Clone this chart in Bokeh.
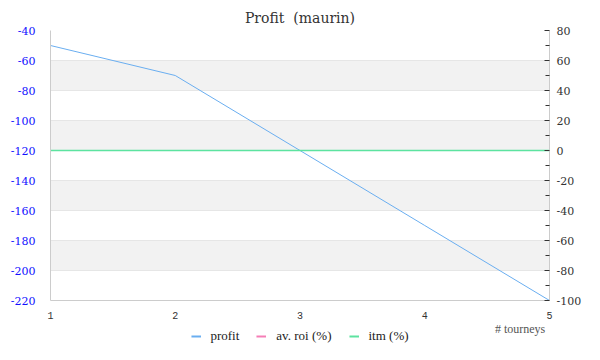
from bokeh.plotting import figure
from bokeh.layouts import column
from bokeh.models import (Range1d, LinearAxis, FixedTicker, Legend, LegendItem)
from bokeh.core.properties import value
from bokeh.embed import file_html
from bokeh.resources import INLINE

tourneys = [1, 2, 3, 4, 5]
profit = [-50, -70, -120, -170, -220]
av_roi = [0, 0, 0, 0, 0]
itm = [0, 0, 0, 0, 0]
left_ticks = list(range(-220, -39, 20))
right_ticks = list(range(-100, 81, 20))
right_minor = list(range(-90, 80, 20))
x_ticks = [1, 2, 3, 4, 5]
x_title = "# tourneys"

SERIF = "Liberation Serif"
C_PROFIT, C_ROI, C_ITM = "#6aaef0", "#f57eb6", "#5de3a0"

p = figure(width=584, height=321, output_backend="svg", toolbar_location=None,
           x_range=Range1d(1, 5), y_range=Range1d(-220, -40),
           min_border_left=50, min_border_right=34, min_border_top=30,
           min_border_bottom=18)
p.outline_line_color = None
p.background_fill_color = "white"

p.title.text = "Profit\u00a0 (maurin)"
p.title.align = "center"
p.title.text_font = "DejaVu Serif"
p.title.text_font_size = "14px"
p.title.text_font_style = "normal"
p.title.text_color = "#333333"
p.title.standoff = 10

p.extra_y_ranges = {"right": Range1d(-100, 80)}

# left axis
la = p.yaxis[0]
la.ticker = FixedTicker(ticks=left_ticks)
la.major_label_overrides = {t: str(t) for t in left_ticks}
la.major_tick_line_color = None
la.minor_tick_line_color = None
la.axis_line_color = "#cccccc"
la.major_label_text_color = "#1111ff"
la.major_label_text_font = "DejaVu Serif"
la.major_label_text_font_size = "11px"
la.major_label_standoff = 9

# bottom axis
xa = p.xaxis[0]
xa.ticker = FixedTicker(ticks=x_ticks)
xa.major_tick_line_color = None
xa.minor_tick_line_color = None
xa.axis_line_color = "#cccccc"
xa.major_label_text_color = "#333333"
xa.major_label_text_font = "Liberation Mono"
xa.major_label_text_font_size = "10px"
xa.major_label_standoff = 5

# right axis
ra = LinearAxis(y_range_name="right",
                ticker=FixedTicker(ticks=right_ticks, minor_ticks=right_minor))
ra.major_label_overrides = {t: str(t) for t in right_ticks}
ra.axis_line_color = "#cccccc"
ra.major_tick_out = 0
ra.major_tick_in = 5
ra.minor_tick_out = 0
ra.minor_tick_in = 4
ra.major_tick_line_color = "#333333"
ra.minor_tick_line_color = "#333333"
ra.major_label_text_color = "#333333"
ra.major_label_text_font = "DejaVu Serif"
ra.major_label_text_font_size = "11px"
ra.major_label_standoff = 7
p.add_layout(ra, "right")

p.xgrid.grid_line_color = None
p.ygrid.ticker = FixedTicker(ticks=left_ticks)
p.ygrid.grid_line_color = "#e6e6e6"
p.ygrid.band_fill_color = "#f2f2f2"
p.ygrid.band_fill_alpha = 1.0

p.line(tourneys, profit, line_color=C_PROFIT, line_width=1)
p.line(tourneys, av_roi, line_color=C_ROI, line_width=1, y_range_name="right")
p.line(tourneys, itm, line_color=C_ITM, line_width=1.5, y_range_name="right")

# footer strip: x-axis title and legend (lines fall outside the view)
f = figure(width=584, height=23, output_backend="svg", toolbar_location=None,
           x_range=Range1d(0, 584), y_range=Range1d(1000, 1023),
           x_axis_type=None, y_axis_type=None, min_border=0)
f.outline_line_color = None
f.xgrid.grid_line_color = None
f.ygrid.grid_line_color = None

l1 = f.line(tourneys, profit, line_color=C_PROFIT, line_width=2)
l2 = f.line(tourneys, av_roi, line_color=C_ROI, line_width=2)
l3 = f.line(tourneys, itm, line_color=C_ITM, line_width=2)

legend = Legend(items=[LegendItem(label="profit", renderers=[l1]),
                       LegendItem(label="av. roi (%)", renderers=[l2]),
                       LegendItem(label="itm (%)", renderers=[l3])],
                orientation="horizontal", location="bottom_center",
                glyph_width=10, glyph_height=12, label_standoff=10, spacing=17,
                padding=1, margin=0, border_line_color=None,
                background_fill_alpha=0, label_height=12,
                label_text_font=SERIF, label_text_font_size="13px",
                label_text_color="#222222")
f.add_layout(legend, "center")

f.text(x=[579], y=[1016], text=[x_title], text_align="right",
       text_baseline="middle", text_font=value(SERIF), text_font_size="12px",
       text_color="#555555")

layout = column(p, f, spacing=0)
open("out.html", "w").write(file_html(layout, INLINE))
